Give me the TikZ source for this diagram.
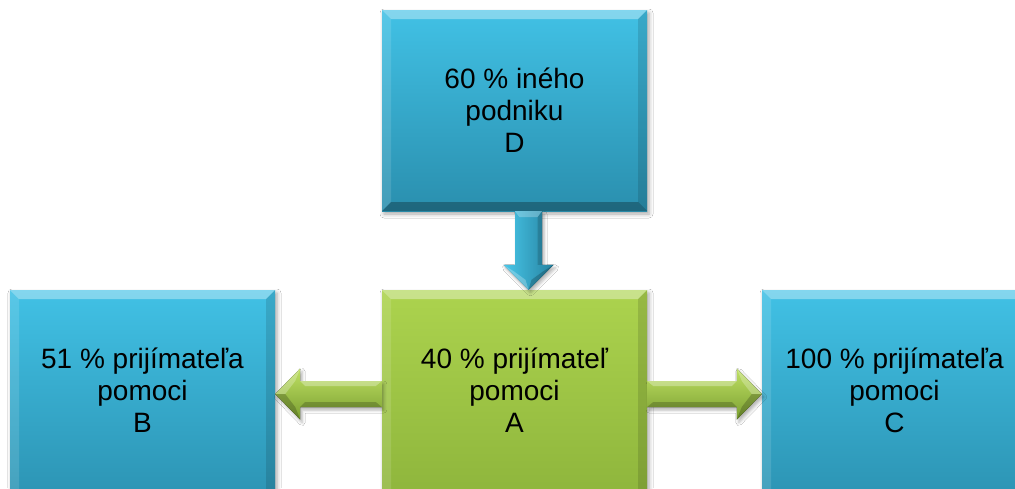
\documentclass[tikz,border=0pt]{standalone}
\usepackage{fontspec}
\setmainfont{Liberation Sans}
\usetikzlibrary{calc,shadows.blur}
\definecolor{blueT}{HTML}{41C1E5}
\definecolor{blueB}{HTML}{2A8FAE}
\definecolor{greenT}{HTML}{ACD34E}
\definecolor{greenB}{HTML}{8BB23A}
\definecolor{garL}{HTML}{BFE063}
\definecolor{garD}{HTML}{7A9F30}
\definecolor{barL}{HTML}{48C6E8}
\definecolor{barD}{HTML}{2683A1}
\tikzset{
  bevelbox/.style={rectangle, minimum width=265pt, minimum height=201pt,
    inner sep=0pt, align=center, text=black,
    font=\fontsize{28pt}{32pt}\selectfont,
    blur shadow={shadow xshift=2pt, shadow yshift=-3pt, shadow blur radius=4pt, shadow opacity=35},
    path picture={
      \coordinate (pnw) at (path picture bounding box.north west);
      \coordinate (pne) at (path picture bounding box.north east);
      \coordinate (psw) at (path picture bounding box.south west);
      \coordinate (pse) at (path picture bounding box.south east);
      \fill[white,opacity=.35] (pnw) -- (pne) -- ([xshift=-9pt,yshift=-9pt]pne) -- ([xshift=9pt,yshift=-9pt]pnw) -- cycle;
      \fill[white,opacity=.12] (pnw) -- ([xshift=9pt,yshift=-9pt]pnw) -- ([xshift=9pt,yshift=9pt]psw) -- (psw) -- cycle;
      \fill[black,opacity=.12] (pne) -- (pse) -- ([xshift=-9pt,yshift=9pt]pse) -- ([xshift=-9pt,yshift=-9pt]pne) -- cycle;
      \fill[black,opacity=.28] (psw) -- (pse) -- ([xshift=-9pt,yshift=9pt]pse) -- ([xshift=9pt,yshift=9pt]psw) -- cycle;
    }},
  lowbox/.style={minimum height=230pt, text depth=29pt},
  bluebox/.style={bevelbox, top color=blueT, bottom color=blueB},
  greenbox/.style={bevelbox, top color=greenT, bottom color=greenB},
  arrowshadow/.style={blur shadow={shadow xshift=2pt, shadow yshift=-3pt, shadow blur radius=3pt, shadow opacity=30}},
}
\begin{document}
\begin{tikzpicture}[x=1pt,y=-1pt]
\useasboundingbox[fill=white] (0,0) rectangle (1015,488);
\clip (0,0) rectangle (1015,488);

\node[bluebox]  (D) at (514.5,110.5) {60 \% iného\\podniku\\D};
\node[greenbox,lowbox] (A) at (514.5,405) {40 \% prijímateľ\\pomoci\\A};
\node[bluebox,lowbox]  (B) at (142.5,405) {51 \% prijímateľa\\pomoci\\B};
\node[bluebox,lowbox]  (C) at (894.5,405) {100 \% prijímateľa\\pomoci\\C};

% down arrow D -> A
\coordinate (ds) at ($(D.south)+(14,0)$);
\coordinate (dt) at ($(A.north)+(14,0)$);
\fill[arrowshadow, left color=barL, right color=barD]
  ($(ds)+(-13.5,0)$) -- ($(dt)+(-13.5,-25)$) -- ($(dt)+(-25,-25)$) -- (dt)
  -- ($(dt)+(25,-25)$) -- ($(dt)+(13.5,-25)$) -- ($(ds)+(13.5,0)$) -- cycle;
\fill[white,opacity=.25] ($(ds)+(-13.5,0)$) -- ($(ds)+(13.5,0)$) -- ($(ds)+(9,6)$) -- ($(ds)+(-9,6)$) -- cycle;
\fill[white,opacity=.25] ($(dt)+(-25,-25)$) -- (dt) -- ($(dt)+(-3,-10)$) -- ($(dt)+(-14,-18)$) -- cycle;
\fill[black,opacity=.2] ($(dt)+(25,-25)$) -- (dt) -- ($(dt)+(3,-10)$) -- ($(dt)+(14,-18)$) -- cycle;
\fill[black,opacity=.15] ($(ds)+(13.5,0)$) -- ($(dt)+(13.5,-25)$) -- ($(dt)+(9,-25)$) -- ($(ds)+(9,6)$) -- cycle;

% left arrow A -> B
\coordinate (ls) at ($(A.west)+(0,-11)$);
\coordinate (lt) at ($(B.east)+(0,-11)$);
\fill[arrowshadow, top color=garL, bottom color=garD]
  ($(ls)+(0,-13)$) -- ($(lt)+(25,-13)$) -- ($(lt)+(25,-25.5)$) -- (lt)
  -- ($(lt)+(25,25.5)$) -- ($(lt)+(25,13)$) -- ($(ls)+(0,13)$) -- cycle;
\fill[white,opacity=.3] ($(ls)+(0,-13)$) -- ($(lt)+(25,-13)$) -- ($(lt)+(30,-8)$) -- ($(ls)+(-6,-8)$) -- cycle;
\fill[black,opacity=.2] ($(ls)+(0,13)$) -- ($(lt)+(25,13)$) -- ($(lt)+(30,8)$) -- ($(ls)+(-6,8)$) -- cycle;
\fill[white,opacity=.25] ($(lt)+(25,-25.5)$) -- (lt) -- ($(lt)+(10,0)$) -- ($(lt)+(20,-13)$) -- cycle;
\fill[black,opacity=.2] ($(lt)+(25,25.5)$) -- (lt) -- ($(lt)+(10,0)$) -- ($(lt)+(20,13)$) -- cycle;

% right arrow A -> C
\coordinate (rs) at ($(A.east)+(0,-11)$);
\coordinate (rt) at ($(C.west)+(0,-11)$);
\fill[arrowshadow, top color=garL, bottom color=garD]
  ($(rs)+(0,-13)$) -- ($(rt)+(-25,-13)$) -- ($(rt)+(-25,-25.5)$) -- (rt)
  -- ($(rt)+(-25,25.5)$) -- ($(rt)+(-25,13)$) -- ($(rs)+(0,13)$) -- cycle;
\fill[white,opacity=.3] ($(rs)+(0,-13)$) -- ($(rt)+(-25,-13)$) -- ($(rt)+(-30,-8)$) -- ($(rs)+(6,-8)$) -- cycle;
\fill[black,opacity=.2] ($(rs)+(0,13)$) -- ($(rt)+(-25,13)$) -- ($(rt)+(-30,8)$) -- ($(rs)+(6,8)$) -- cycle;
\fill[white,opacity=.25] ($(rt)+(-25,-25.5)$) -- (rt) -- ($(rt)+(-10,0)$) -- ($(rt)+(-20,-13)$) -- cycle;
\fill[black,opacity=.2] ($(rt)+(-25,25.5)$) -- (rt) -- ($(rt)+(-10,0)$) -- ($(rt)+(-20,13)$) -- cycle;
\end{tikzpicture}
\end{document}
